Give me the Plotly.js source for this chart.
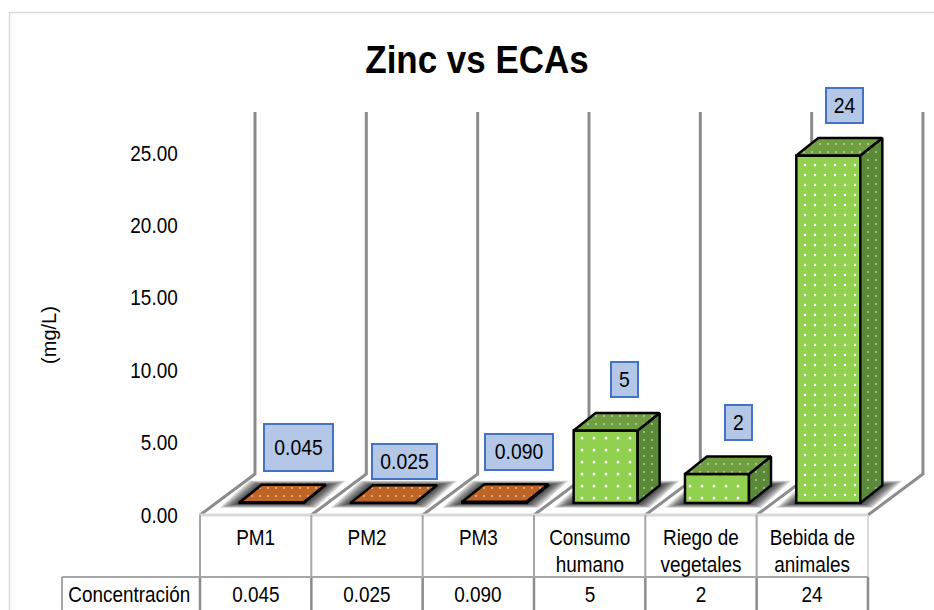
<!DOCTYPE html>
<html><head><meta charset="utf-8">
<script src="https://cdn.plot.ly/plotly-3.0.1.min.js"></script>
<style>html,body{margin:0;padding:0;background:#fff;overflow:hidden}#c{width:934px;height:610px}</style>
</head><body><div id="c"></div>
<script>
// ---- data ----
const categories = ['PM1','PM2','PM3','Consumo humano','Riego de vegetales','Bebida de animales'];
const values = [0.045,0.025,0.090,5,2,24];
const tableValues = ['0.045','0.025','0.090','5','2','24'];
const yTicks = [0,5,10,15,20,25];
const yTickLabels = ['0.00','5.00','10.00','15.00','20.00','25.00'];
const rowTitle = 'Concentración';

// ---- geometry: scales (pixels per unit) and helpers ----
const W=934,H=610, PXX=111.33, PXY=14.48, X0=200, Y0=515, DOMTOP=60;
const fx=p=>-0.5+(p-X0)/PXX, fy=p=>(Y0-p)/PXY;
const FONT='"Liberation Sans",Arial,sans-serif', FS=21.5;
const GRAY='#8c8c8c', LIGHT='#d9d9d9', MID='#a6a6a6';
const barShift=16/PXX, barBase=12/PXY, barW=64/PXX, depX=22/PXX, depY=17.5/PXY;
const wallDX=55/PXX, wallDY=41/PXY, wallTop=fy(112);

const shapes=[];
function line(x0,y0,x1,y1,color,width){shapes.push({type:'line',xref:'x',yref:'y',x0:fx(x0),y0:fy(y0),x1:fx(x1),y1:fy(y1),layer:'below',line:{color,width}});}
// outer frame
shapes.push({type:'rect',xref:'paper',yref:'paper',x0:9.5/W,x1:1.2,y0:-0.1,y1:1-12.5/H,layer:'below',line:{color:LIGHT,width:1.5},fillcolor:'rgba(0,0,0,0)'});
// walls, floor, table
for(let i=0;i<=6;i++){
  const bx=X0+i*PXX;
  shapes.push({type:'path',xref:'x',yref:'y',layer:'below',
    path:`M${fx(bx)},0L${fx(bx)+wallDX},${wallDY}L${fx(bx)+wallDX},${wallTop}`,
    line:{color:GRAY,width:3},fillcolor:'rgba(0,0,0,0)'});
}
// shadows
values.forEach((v,i)=>{
  const xl=i+barShift-barW/2, xr=i+barShift+barW/2;
  for(let k=0;k<7;k++){
    const ex=(2+k*3)/PXX, ey=(0.5+k*0.7)/PXY;
    const p=[[xl-ex,barBase-ey],[xr+ex*0.6,barBase-ey],[xr+depX+ex,barBase+depY+ey],[xl+depX-ex*0.6,barBase+depY+ey]];
    shapes.push({type:'path',xref:'x',yref:'y',layer:'below',path:'M'+p.map(q=>q.join(',')).join('L')+'Z',fillcolor:'rgba(0,0,0,0.17)',line:{width:0}});
  }
});
line(X0,515,868,515,LIGHT,3);
for(let i=0;i<=6;i++){const bx=X0+i*PXX; line(bx,515,bx,577,i==6?LIGHT:MID,2); line(bx,577,bx,612,GRAY,2.5);}
line(62,577,868,577,MID,2);
line(62,577,62,612,MID,2);

// ---- traces ----
const barX=categories.map((c,i)=>i+barShift);
const colFront=values.map((v,i)=>i<3?'#C55A11':'#92D050');
const front={type:'bar',x:barX,y:values,base:values.map(()=>barBase),width:barW,
  hoverinfo:'skip',showlegend:false,
  marker:{color:'#92D050',line:{color:'#000',width:2.5},
    pattern:{shape:'.',bgcolor:colFront,fgcolor:'#ffffff',fgopacity:1,size:values.map(v=>v>20?10:12),solidity:0.05}}};
function faces(idx,kind){
  const xs=[],ys=[];
  idx.forEach(i=>{
    const xl=i+barShift-barW/2,xr=i+barShift+barW/2,t=barBase+values[i],b=barBase;
    const poly=kind=='top'?[[xl,t],[xr,t],[xr+depX,t+depY],[xl+depX,t+depY],[xl,t]]
                          :[[xr,b],[xr+depX,b+depY],[xr+depX,t+depY],[xr,t],[xr,b]];
    poly.forEach(p=>{xs.push(p[0]);ys.push(p[1]);});
    xs.push(null);ys.push(null);
  });
  return {xs,ys};
}
function faceTrace(idx,kind,color){
  const f=faces(idx,kind);
  return {type:'scatter',mode:'lines',x:f.xs,y:f.ys,fill:'toself',fillcolor:color,
    line:{color:'#000',width:2.5,join:'round'},hoverinfo:'skip',showlegend:false,
    fillpattern:{shape:'.',fgcolor:'#ffffff',fgopacity:0.6,bgcolor:color,size:8,solidity:0.04}};
}
const pm=[0,1,2], eca=[3,4,5];
const traces=[front,
  faceTrace(pm,'side','#843C0C'),faceTrace(pm,'top','#BE6526'),
  faceTrace(eca,'side','#5A8A38'),faceTrace(eca,'top','#6F9F41')];

// ---- annotations ----
const ann=[];
// value boxes: [left,right,top,bottom] of each box
const boxes=[[263,333,423,471],[371,437,443,479],[484,553,433,470],[610,638,361,397],[724,752,404,440],[825,863,87,123]];
tableValues.forEach((t,i)=>{
  const b=boxes[i];
  ann.push({xref:'x',yref:'y',x:fx((b[0]+b[1])/2),y:fy((b[2]+b[3])/2),text:t,showarrow:false,
    width:b[1]-b[0]-3,height:b[3]-b[2]-3,valign:'middle',align:'center',
    bgcolor:'#B4C7E7',bordercolor:'#4472C4',borderwidth:2,borderpad:0,
    font:{family:FONT,size:FS+0.5,color:'#000'}});
});
categories.forEach((c,i)=>{
  const sp=c.lastIndexOf(' ');
  if(sp>0) ann.push({xref:'x',yref:'y',x:i,y:fy(565),text:c.slice(sp+1),showarrow:false,font:{family:FONT,size:FS,color:'#000'}});
  ann.push({xref:'x',yref:'y',x:i,y:fy(595),text:tableValues[i],showarrow:false,font:{family:FONT,size:FS,color:'#000'}});
});
ann.push({xref:'x',yref:'y',x:fx(129),y:fy(595),text:rowTitle,showarrow:false,font:{family:FONT,size:FS,color:'#000'}});

const layout={width:W,height:H,margin:{l:0,r:0,t:0,b:0,pad:0},paper_bgcolor:'#fff',plot_bgcolor:'rgba(0,0,0,0)',
  showlegend:false,shapes,annotations:ann,
  title:{text:'Zinc vs ECAs',x:477/W,xanchor:'center',y:1-60/H,yanchor:'middle',font:{family:FONT,size:38,color:'#000',weight:700}},
  xaxis:{range:[fx(0),fx(W)],domain:[0,1],anchor:'free',position:(H-Y0)/H,tickmode:'array',tickvals:categories.map((c,i)=>i),
    ticktext:categories.map(c=>{const s=c.lastIndexOf(' ');return s>0?c.slice(0,s):c;}),showgrid:false,zeroline:false,showline:false,ticks:'outside',ticklen:3,tickcolor:'rgba(0,0,0,0)',
    tickfont:{family:FONT,size:FS,color:'#000'},tickangle:0,fixedrange:true},
  yaxis:{range:[fy(H),fy(DOMTOP)],domain:[0,(H-DOMTOP)/H],anchor:'free',position:X0/W,tickmode:'array',tickvals:yTicks,ticktext:yTickLabels,
    showgrid:false,zeroline:false,showline:false,ticks:'outside',ticklen:18,tickcolor:'rgba(0,0,0,0)',
    tickfont:{family:FONT,size:FS,color:'#000'},fixedrange:true,
    title:{text:'(mg/L)',standoff:60,font:{family:FONT,size:20,color:'#000'}}},
  bargap:0};

// narrow the glyphs a little (the reference uses a condensed face), keeping any transform Plotly set
function narrow(sel,s,anchorRight){
  document.querySelectorAll(sel).forEach(t=>{
    const b=t.getBBox();
    const cx=anchorRight?b.x+b.width:b.x+b.width/2, cy=b.y+b.height/2;
    const tr=t.getAttribute('transform')||'';
    t.setAttribute('transform',`${tr} translate(${cx},${cy}) scale(${s},1) translate(${-cx},${-cy})`);
  });
}
Plotly.newPlot('c',traces,layout,{displayModeBar:false,staticPlot:true}).then(()=>{
  narrow('.xtick text',0.88,false);
  narrow('.ytick text',0.88,true);
  narrow('.annotation-text',0.88,false);
  narrow('.gtitle',0.92,false);
});
</script></body></html>
